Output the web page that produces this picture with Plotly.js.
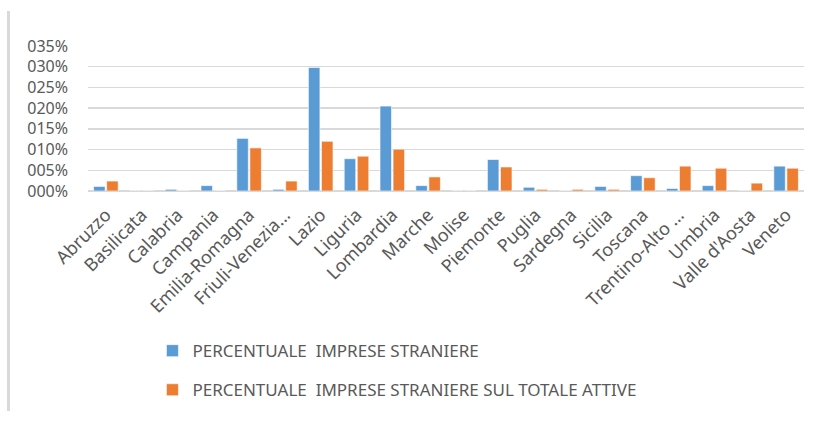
<!DOCTYPE html>
<html>
<head>
<meta charset="utf-8">
<script src="https://cdn.plot.ly/plotly-3.0.1.min.js"></script>
<style>
html,body{margin:0;padding:0;background:#fff;}
#chart{width:822px;height:421px;}
</style>
</head>
<body>
<div id="chart"></div>
<script>
const regions = ["Abruzzo","Basilicata","Calabria","Campania","Emilia-Romagna","Friuli-Venezia…","Lazio","Liguria","Lombardia","Marche","Molise","Piemonte","Puglia","Sardegna","Sicilia","Toscana","Trentino-Alto …","Umbria","Valle d'Aosta","Veneto"];
const percImpreseStraniere = [0.011,0,0.004,0.013,0.127,0.004,0.298,0.078,0.205,0.013,0,0.076,0.009,0,0.011,0.037,0.006,0.013,0,0.060];
const percSulTotaleAttive = [0.024,0,0,0,0.104,0.024,0.120,0.084,0.101,0.034,0,0.058,0.004,0.004,0.004,0.032,0.060,0.055,0.019,0.055];
const yTickVals = [0,0.05,0.10,0.15,0.20,0.25,0.30,0.35];
const yTickText = ["000%","005%","010%","015%","020%","025%","030%","035%"];
const seriesNames = ["PERCENTUALE  IMPRESE STRANIERE","PERCENTUALE  IMPRESE STRANIERE SUL TOTALE ATTIVE"];

const fam = "'Noto Sans', 'Open Sans', sans-serif";
const font = {family:fam, size:18, color:"#595959"};

const traces = [
  {type:"bar", x:regions, y:percImpreseStraniere, name:seriesNames[0], legendgroup:"a",
   marker:{color:"#5B9BD5", line:{color:"#ffffff", width:0.6}}},
  {type:"bar", x:regions, y:percSulTotaleAttive, name:seriesNames[1], legendgroup:"b",
   marker:{color:"#ED7D31", line:{color:"#ffffff", width:0.6}}}
];

const layout = {
  width:822, height:421,
  margin:{l:88, r:18, t:46, b:226},
  paper_bgcolor:"#ffffff", plot_bgcolor:"#ffffff",
  font:font,
  barmode:"group", bargap:0.27, bargroupgap:0.12,
  showlegend:true,
  legend:{x:0.09, xanchor:"left", y:-0.98, yanchor:"top", orientation:"v",
          font:{family:fam, size:17, color:"#595959"},
          traceorder:"grouped", tracegroupgap:14, itemwidth:30},
  xaxis:{type:"category", tickangle:-45, showgrid:false, zeroline:false, showline:false,
         ticks:"", ticklabelstandoff:9, tickfont:font, automargin:false, fixedrange:true},
  yaxis:{range:[0,0.35], tickvals:yTickVals, ticktext:yTickText, showgrid:true,
         gridcolor:"#D9D9D9", gridwidth:1.5, zeroline:true, zerolinecolor:"#D9D9D9", zerolinewidth:1.5,
         showline:false, ticks:"", ticklabelstandoff:19, tickfont:{family:fam, size:16, color:"#595959"},
         automargin:false, fixedrange:true},
  shapes:[{type:"line", xref:"paper", yref:"paper",
           x0:(8.5-88)/716, x1:(8.5-88)/716, y0:(195-10)/149, y1:(195-421)/149,
           line:{color:"#D9D9D9", width:3}}]
};

Plotly.newPlot("chart", traces, layout, {displayModeBar:false, staticPlot:true});
</script>
</body>
</html>
